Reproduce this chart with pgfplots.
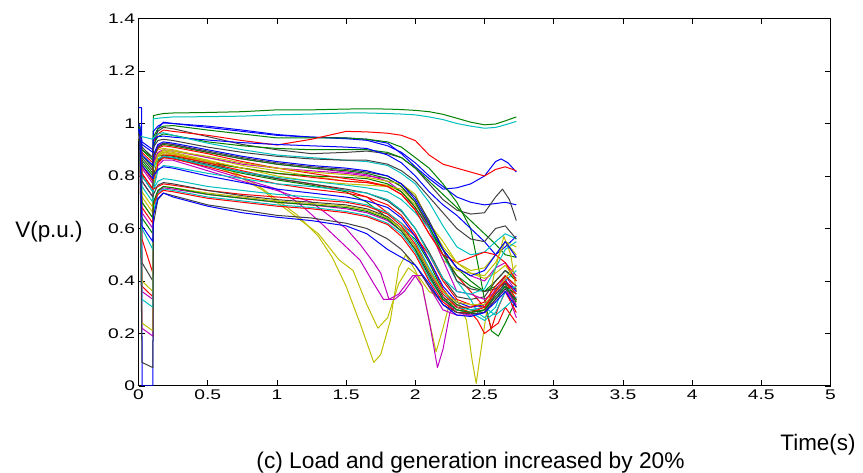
\documentclass[border=0pt]{standalone}
\usepackage{fontspec}
\setmainfont{Liberation Sans}
\newfontfamily\tickfont[FakeStretch=1.38]{Liberation Sans}
\usepackage{pgfplots}
\pgfplotsset{compat=1.18}

% MATLAB default line colours
\definecolor{mb}{rgb}{0,0,1}
\definecolor{mg}{rgb}{0,0.5,0}
\definecolor{mr}{rgb}{1,0,0}
\definecolor{mc}{rgb}{0,0.75,0.75}
\definecolor{mm}{rgb}{0.75,0,0.75}
\definecolor{my}{rgb}{0.75,0.75,0}
\definecolor{mk}{rgb}{0.25,0.25,0.25}

\pgfplotsset{bus/.style={line width=1bp, mark=none, line join=round}}

\begin{document}
\begin{tikzpicture}
\useasboundingbox (0,0) rectangle (863bp,473bp);
\begin{axis}[
  at={(138.5bp,87bp)}, anchor=south west,
  scale only axis, width=692bp, height=367.5bp,
  xmin=0, xmax=5, ymin=0, ymax=1.4,
  xtick={0,0.5,1,1.5,2,2.5,3,3.5,4,4.5,5},
  xticklabels={0,0.5,1,1.5,2,2.5,3,3.5,4,4.5,5},
  ytick={0,0.2,0.4,0.6,0.8,1,1.2,1.4},
  yticklabels={0,0.2,0.4,0.6,0.8,1,1.2,1.4},
  tick align=inside, major tick length=6bp,
  tick style={black, line width=0.8bp},
  axis line style={line width=1bp},
  tick label style={font=\fontsize{14}{14}\selectfont\tickfont},
  /pgf/number format/assume math mode=true,
]
% top buses
\addplot[bus,mg] coordinates {(0,1.00)(0.01,0.99)(0.025,0.90)(0.104,0.87)(0.108,1.030)(0.14,1.034)(0.18,1.038)(0.25,1.040)(0.5,1.042)(0.75,1.045)(1.0,1.052)(1.25,1.052)(1.5,1.055)(1.65,1.056)(1.8,1.055)(1.9,1.053)(2.0,1.050)(2.1,1.045)(2.2,1.035)(2.3,1.020)(2.4,1.005)(2.5,0.995)(2.58,0.998)(2.65,1.010)(2.73,1.025)};
\addplot[bus,mc] coordinates {(0,0.98)(0.01,0.975)(0.025,0.88)(0.104,0.84)(0.108,1.018)(0.14,1.02)(0.18,1.022)(0.25,1.025)(0.5,1.026)(0.75,1.028)(1.0,1.033)(1.25,1.036)(1.5,1.040)(1.65,1.040)(1.8,1.038)(1.9,1.036)(2.0,1.033)(2.1,1.025)(2.2,1.015)(2.3,1.000)(2.4,0.990)(2.5,0.982)(2.58,0.985)(2.65,0.995)(2.73,1.008)};
% faulted bus
\addplot[bus,mb] coordinates {(0,1.06)(0.022,1.06)(0.026,0)(0.104,0)(0.108,0.90)(0.14,0.98)(0.18,1.005)(0.25,1.0)(0.5,0.985)(0.75,0.97)(1.0,0.955)(1.25,0.948)(1.5,0.945)(1.65,0.94)(1.8,0.925)(1.9,0.885)(2.0,0.835)(2.1,0.79)(2.2,0.75)(2.3,0.755)(2.4,0.77)(2.5,0.80)(2.58,0.855)(2.62,0.865)(2.67,0.85)(2.73,0.815)};
% upper group
\addplot[bus,mb] coordinates {(0,1.00)(0.01,0.99)(0.025,0.93)(0.104,0.90)(0.108,0.97)(0.14,0.99)(0.18,1.002)(0.25,1.0)(0.5,0.99)(0.75,0.975)(1.0,0.958)(1.25,0.948)(1.5,0.942)(1.65,0.936)(1.8,0.915)(1.9,0.89)(2.0,0.85)(2.1,0.80)(2.2,0.76)(2.3,0.72)(2.4,0.70)(2.5,0.69)(2.58,0.695)(2.65,0.70)(2.73,0.69)};
\addplot[bus,mg] coordinates {(0,0.99)(0.01,0.98)(0.025,0.90)(0.104,0.86)(0.108,0.95)(0.14,0.98)(0.18,0.99)(0.25,0.992)(0.5,0.975)(0.75,0.96)(1.0,0.945)(1.25,0.945)(1.5,0.945)(1.65,0.94)(1.8,0.93)(1.9,0.91)(2.0,0.87)(2.1,0.83)(2.2,0.77)(2.3,0.70)(2.4,0.60)(2.45,0.47)(2.5,0.33)(2.55,0.21)(2.6,0.19)(2.65,0.24)(2.73,0.33)};
\addplot[bus,mk] coordinates {(0,0.98)(0.01,0.97)(0.025,0.91)(0.104,0.87)(0.108,0.94)(0.14,0.97)(0.18,0.985)(0.25,0.98)(0.5,0.95)(0.75,0.92)(1.0,0.90)(1.25,0.885)(1.5,0.89)(1.65,0.895)(1.8,0.885)(1.9,0.87)(2.0,0.83)(2.1,0.77)(2.2,0.71)(2.3,0.67)(2.4,0.655)(2.5,0.66)(2.58,0.72)(2.63,0.75)(2.68,0.71)(2.73,0.63)};
\addplot[bus,mr] coordinates {(0,0.97)(0.01,0.96)(0.025,0.89)(0.104,0.85)(0.108,0.93)(0.14,0.96)(0.18,0.975)(0.25,0.97)(0.5,0.955)(0.75,0.935)(1.0,0.918)(1.25,0.94)(1.5,0.97)(1.65,0.968)(1.8,0.963)(1.9,0.955)(2.0,0.935)(2.1,0.88)(2.2,0.845)(2.3,0.83)(2.4,0.815)(2.5,0.80)(2.58,0.825)(2.65,0.835)(2.73,0.82)};
\addplot[bus,mg] coordinates {(0,0.97)(0.01,0.96)(0.025,0.88)(0.104,0.83)(0.108,0.92)(0.14,0.95)(0.18,0.96)(0.25,0.955)(0.5,0.93)(0.75,0.915)(1.0,0.905)(1.25,0.90)(1.5,0.90)(1.65,0.90)(1.8,0.89)(1.9,0.87)(2.0,0.83)(2.1,0.78)(2.2,0.73)(2.3,0.68)(2.4,0.63)(2.5,0.58)(2.58,0.54)(2.65,0.50)(2.73,0.49)};
\addplot[bus,mb] coordinates {(0,0.98)(0.01,0.97)(0.025,0.92)(0.104,0.89)(0.108,0.94)(0.14,0.95)(0.18,0.952)(0.25,0.948)(0.5,0.937)(0.75,0.927)(1.0,0.92)(1.25,0.915)(1.5,0.91)(1.65,0.905)(1.8,0.88)(1.9,0.85)(2.0,0.80)(2.1,0.74)(2.2,0.69)(2.3,0.65)(2.4,0.60)(2.5,0.55)(2.58,0.50)(2.65,0.53)(2.73,0.57)};
\addplot[bus,mc] coordinates {(0,0.97)(0.012,0.955)(0.025,0.95)(0.104,0.94)(0.108,0.945)(0.14,0.96)(0.18,0.965)(0.25,0.955)(0.5,0.925)(0.75,0.90)(1.0,0.88)(1.25,0.87)(1.5,0.86)(1.65,0.855)(1.8,0.84)(1.9,0.81)(2.0,0.77)(2.1,0.70)(2.2,0.61)(2.3,0.53)(2.4,0.50)(2.5,0.51)(2.58,0.55)(2.65,0.58)(2.73,0.56)};
\addplot[bus,mk] coordinates {(0,0.96)(0.01,0.95)(0.025,0.87)(0.104,0.82)(0.108,0.91)(0.14,0.935)(0.18,0.94)(0.25,0.935)(0.5,0.91)(0.75,0.89)(1.0,0.875)(1.25,0.865)(1.5,0.86)(1.65,0.86)(1.8,0.845)(1.9,0.82)(2.0,0.78)(2.1,0.72)(2.2,0.66)(2.3,0.60)(2.4,0.56)(2.5,0.55)(2.58,0.60)(2.65,0.61)(2.73,0.56)};
\addplot[bus,mm] coordinates {(0,0.96)(0.01,0.95)(0.025,0.83)(0.104,0.77)(0.108,0.88)(0.14,0.915)(0.18,0.925)(0.25,0.92)(0.5,0.89)(0.75,0.865)(1.0,0.845)(1.25,0.83)(1.5,0.815)(1.65,0.805)(1.8,0.78)(1.9,0.74)(2.0,0.68)(2.1,0.60)(2.2,0.52)(2.3,0.45)(2.4,0.42)(2.5,0.40)(2.58,0.45)(2.65,0.47)(2.73,0.42)};
\addplot[bus,my] coordinates {(0,0.96)(0.01,0.95)(0.025,0.84)(0.104,0.79)(0.108,0.88)(0.14,0.9)(0.18,0.905)(0.25,0.90)(0.5,0.87)(0.75,0.84)(1.0,0.82)(1.25,0.80)(1.5,0.78)(1.65,0.775)(1.8,0.765)(1.9,0.74)(2.0,0.69)(2.1,0.62)(2.2,0.55)(2.3,0.47)(2.4,0.44)(2.5,0.45)(2.58,0.50)(2.65,0.55)(2.73,0.53)};
\addplot[bus,mr] coordinates {(0,0.95)(0.01,0.94)(0.025,0.81)(0.104,0.75)(0.108,0.86)(0.14,0.88)(0.18,0.89)(0.25,0.885)(0.5,0.855)(0.75,0.83)(1.0,0.81)(1.25,0.795)(1.5,0.78)(1.65,0.775)(1.8,0.76)(1.9,0.73)(2.0,0.67)(2.1,0.58)(2.2,0.50)(2.3,0.42)(2.4,0.36)(2.5,0.30)(2.55,0.22)(2.6,0.24)(2.65,0.30)(2.73,0.24)};
\addplot[bus,mg] coordinates {(0,0.95)(0.01,0.94)(0.025,0.86)(0.104,0.81)(0.108,0.86)(0.14,0.875)(0.18,0.88)(0.25,0.875)(0.5,0.85)(0.75,0.83)(1.0,0.81)(1.25,0.80)(1.5,0.795)(1.65,0.79)(1.8,0.77)(1.9,0.74)(2.0,0.68)(2.1,0.60)(2.2,0.52)(2.3,0.45)(2.4,0.40)(2.5,0.36)(2.58,0.40)(2.65,0.44)(2.73,0.40)};
% buses with deep voltage dips
\addplot[bus,my] coordinates {(0,0.95)(0.01,0.94)(0.025,0.72)(0.104,0.66)(0.108,0.84)(0.14,0.885)(0.18,0.895)(0.25,0.89)(0.5,0.86)(0.75,0.80)(0.9,0.75)(1.0,0.71)(1.15,0.65)(1.3,0.57)(1.4,0.49)(1.5,0.38)(1.6,0.24)(1.7,0.09)(1.75,0.12)(1.82,0.25)(1.88,0.45)(1.93,0.50)(2.0,0.44)(2.05,0.38)(2.1,0.25)(2.15,0.13)(2.2,0.22)(2.25,0.32)(2.3,0.30)(2.4,0.28)(2.5,0.29)(2.58,0.36)(2.65,0.40)(2.73,0.32)};
\addplot[bus,my] coordinates {(0,0.94)(0.01,0.93)(0.025,0.70)(0.104,0.64)(0.108,0.83)(0.14,0.875)(0.18,0.885)(0.25,0.88)(0.5,0.855)(0.75,0.79)(0.9,0.745)(1.0,0.70)(1.15,0.64)(1.3,0.58)(1.45,0.48)(1.55,0.44)(1.65,0.31)(1.73,0.22)(1.8,0.26)(1.88,0.39)(1.95,0.45)(2.02,0.42)(2.1,0.36)(2.2,0.33)(2.3,0.33)(2.37,0.25)(2.41,0.10)(2.44,0.01)(2.47,0.12)(2.52,0.30)(2.58,0.45)(2.64,0.57)(2.69,0.50)(2.73,0.36)};
\addplot[bus,mm] coordinates {(0,0.95)(0.01,0.94)(0.025,0.36)(0.104,0.33)(0.108,0.78)(0.14,0.85)(0.18,0.87)(0.25,0.87)(0.5,0.83)(0.75,0.79)(1.0,0.75)(1.15,0.70)(1.3,0.63)(1.4,0.58)(1.5,0.53)(1.6,0.48)(1.7,0.39)(1.77,0.33)(1.85,0.33)(1.92,0.36)(2.0,0.42)(2.05,0.38)(2.1,0.25)(2.16,0.07)(2.2,0.14)(2.25,0.28)(2.3,0.31)(2.4,0.29)(2.5,0.30)(2.58,0.37)(2.65,0.41)(2.73,0.30)};
\addplot[bus,mm] coordinates {(0,0.95)(0.01,0.94)(0.025,0.22)(0.104,0.19)(0.108,0.76)(0.14,0.84)(0.18,0.86)(0.25,0.86)(0.5,0.82)(0.75,0.78)(1.0,0.745)(1.25,0.70)(1.4,0.64)(1.5,0.60)(1.6,0.54)(1.7,0.47)(1.75,0.43)(1.81,0.33)(1.88,0.35)(1.98,0.42)(2.05,0.42)(2.12,0.36)(2.2,0.29)(2.3,0.27)(2.4,0.27)(2.5,0.28)(2.58,0.35)(2.65,0.38)(2.73,0.26)};
% middle group
\addplot[bus,mr] coordinates {(0,0.96)(0.01,0.95)(0.025,0.56)(0.104,0.43)(0.108,0.80)(0.14,0.86)(0.18,0.88)(0.25,0.878)(0.5,0.85)(0.75,0.82)(1.0,0.79)(1.25,0.77)(1.5,0.745)(1.65,0.72)(1.8,0.66)(1.9,0.62)(2.0,0.57)(2.1,0.50)(2.2,0.40)(2.3,0.33)(2.4,0.31)(2.5,0.30)(2.58,0.36)(2.65,0.40)(2.73,0.33)};
\addplot[bus,mg] coordinates {(0,0.95)(0.01,0.94)(0.025,0.64)(0.104,0.58)(0.108,0.80)(0.14,0.855)(0.18,0.87)(0.25,0.868)(0.5,0.84)(0.75,0.81)(1.0,0.785)(1.25,0.765)(1.5,0.74)(1.65,0.70)(1.8,0.64)(1.9,0.60)(2.0,0.56)(2.1,0.47)(2.2,0.36)(2.3,0.31)(2.4,0.29)(2.5,0.28)(2.58,0.33)(2.65,0.38)(2.73,0.35)};
\addplot[bus,mk] coordinates {(0,0.96)(0.01,0.95)(0.025,0.47)(0.104,0.40)(0.108,0.79)(0.14,0.86)(0.18,0.875)(0.25,0.87)(0.5,0.845)(0.75,0.815)(1.0,0.79)(1.25,0.77)(1.5,0.75)(1.65,0.735)(1.8,0.705)(1.9,0.665)(2.0,0.60)(2.1,0.51)(2.2,0.41)(2.3,0.34)(2.4,0.33)(2.5,0.34)(2.58,0.40)(2.65,0.44)(2.73,0.41)};
\addplot[bus,my] coordinates {(0,0.95)(0.01,0.94)(0.025,0.74)(0.104,0.68)(0.108,0.84)(0.14,0.88)(0.18,0.89)(0.25,0.885)(0.5,0.86)(0.75,0.83)(1.0,0.80)(1.25,0.78)(1.5,0.77)(1.65,0.765)(1.8,0.76)(1.9,0.75)(2.0,0.70)(2.1,0.60)(2.2,0.48)(2.3,0.44)(2.4,0.43)(2.5,0.41)(2.58,0.43)(2.65,0.46)(2.73,0.40)};
\addplot[bus,mr] coordinates {(0,0.95)(0.01,0.94)(0.025,0.38)(0.104,0.34)(0.108,0.78)(0.14,0.85)(0.18,0.87)(0.25,0.865)(0.5,0.835)(0.75,0.80)(1.0,0.77)(1.25,0.75)(1.5,0.735)(1.65,0.72)(1.8,0.69)(1.9,0.65)(2.0,0.58)(2.1,0.48)(2.2,0.37)(2.3,0.30)(2.4,0.28)(2.45,0.25)(2.5,0.20)(2.55,0.22)(2.6,0.30)(2.65,0.36)(2.73,0.28)};
\addplot[bus,mm] coordinates {(0,0.95)(0.01,0.94)(0.025,0.78)(0.104,0.72)(0.108,0.85)(0.14,0.89)(0.18,0.90)(0.25,0.895)(0.5,0.87)(0.75,0.845)(1.0,0.83)(1.25,0.82)(1.5,0.81)(1.65,0.80)(1.8,0.79)(1.9,0.76)(2.0,0.70)(2.1,0.60)(2.2,0.48)(2.3,0.36)(2.4,0.35)(2.5,0.33)(2.58,0.36)(2.65,0.42)(2.73,0.36)};
\addplot[bus,mc] coordinates {(0,0.95)(0.01,0.94)(0.025,0.76)(0.104,0.70)(0.108,0.83)(0.14,0.865)(0.18,0.875)(0.25,0.87)(0.5,0.84)(0.75,0.815)(1.0,0.795)(1.25,0.78)(1.5,0.765)(1.65,0.755)(1.8,0.74)(1.9,0.71)(2.0,0.66)(2.1,0.60)(2.2,0.50)(2.3,0.40)(2.4,0.33)(2.45,0.28)(2.5,0.26)(2.58,0.30)(2.65,0.40)(2.73,0.44)};
\addplot[bus,mg] coordinates {(0,0.96)(0.01,0.95)(0.025,0.85)(0.104,0.80)(0.108,0.87)(0.14,0.91)(0.18,0.92)(0.25,0.915)(0.5,0.89)(0.75,0.865)(1.0,0.845)(1.25,0.83)(1.5,0.82)(1.65,0.81)(1.8,0.79)(1.9,0.76)(2.0,0.70)(2.1,0.61)(2.2,0.50)(2.3,0.42)(2.4,0.38)(2.5,0.36)(2.58,0.38)(2.65,0.42)(2.73,0.38)};
\addplot[bus,mr] coordinates {(0,0.96)(0.01,0.95)(0.025,0.84)(0.104,0.78)(0.108,0.87)(0.14,0.905)(0.18,0.915)(0.25,0.91)(0.5,0.885)(0.75,0.855)(1.0,0.83)(1.25,0.81)(1.5,0.79)(1.65,0.78)(1.8,0.76)(1.9,0.73)(2.0,0.67)(2.1,0.58)(2.2,0.50)(2.3,0.47)(2.4,0.49)(2.5,0.51)(2.58,0.50)(2.65,0.47)(2.73,0.40)};
\addplot[bus,my] coordinates {(0,0.95)(0.01,0.94)(0.025,0.24)(0.104,0.21)(0.108,0.75)(0.14,0.88)(0.18,0.90)(0.25,0.895)(0.5,0.875)(0.75,0.85)(1.0,0.83)(1.25,0.815)(1.5,0.805)(1.65,0.795)(1.8,0.78)(1.9,0.77)(2.0,0.73)(2.1,0.62)(2.2,0.53)(2.3,0.47)(2.4,0.43)(2.5,0.42)(2.58,0.47)(2.65,0.55)(2.73,0.50)};
\addplot[bus,mk] coordinates {(0,0.96)(0.01,0.95)(0.025,0.80)(0.104,0.74)(0.108,0.86)(0.14,0.91)(0.18,0.925)(0.25,0.92)(0.5,0.895)(0.75,0.87)(1.0,0.85)(1.25,0.835)(1.5,0.825)(1.65,0.815)(1.8,0.80)(1.9,0.77)(2.0,0.72)(2.1,0.63)(2.2,0.52)(2.3,0.40)(2.4,0.37)(2.5,0.36)(2.58,0.37)(2.65,0.39)(2.73,0.37)};
\addplot[bus,mc] coordinates {(0,0.96)(0.01,0.95)(0.025,0.60)(0.104,0.52)(0.108,0.75)(0.14,0.82)(0.18,0.84)(0.25,0.835)(0.5,0.81)(0.75,0.79)(1.0,0.77)(1.25,0.76)(1.5,0.745)(1.65,0.735)(1.8,0.71)(1.9,0.67)(2.0,0.60)(2.1,0.50)(2.2,0.41)(2.3,0.36)(2.4,0.35)(2.5,0.37)(2.58,0.45)(2.65,0.52)(2.73,0.55)};
\addplot[bus,mb] coordinates {(0,0.98)(0.01,0.97)(0.025,0.88)(0.104,0.84)(0.108,0.88)(0.14,0.92)(0.18,0.93)(0.25,0.925)(0.5,0.90)(0.75,0.875)(1.0,0.855)(1.25,0.84)(1.5,0.83)(1.65,0.82)(1.8,0.80)(1.9,0.77)(2.0,0.71)(2.1,0.62)(2.2,0.52)(2.3,0.45)(2.4,0.42)(2.5,0.44)(2.58,0.50)(2.65,0.55)(2.73,0.49)};
% lower group
\addplot[bus,mb] coordinates {(0,0.98)(0.01,0.97)(0.025,0.84)(0.104,0.79)(0.108,0.80)(0.14,0.825)(0.18,0.835)(0.25,0.83)(0.5,0.80)(0.75,0.775)(1.0,0.75)(1.25,0.735)(1.5,0.72)(1.65,0.705)(1.8,0.68)(1.9,0.64)(2.0,0.57)(2.1,0.48)(2.2,0.38)(2.3,0.32)(2.4,0.30)(2.5,0.31)(2.58,0.36)(2.65,0.40)(2.73,0.36)};
\addplot[bus,mc] coordinates {(0,0.96)(0.01,0.95)(0.025,0.80)(0.104,0.74)(0.108,0.75)(0.14,0.78)(0.18,0.79)(0.25,0.785)(0.5,0.76)(0.75,0.745)(1.0,0.73)(1.25,0.72)(1.5,0.705)(1.65,0.69)(1.8,0.66)(1.9,0.62)(2.0,0.55)(2.1,0.45)(2.2,0.36)(2.3,0.30)(2.4,0.29)(2.5,0.30)(2.58,0.27)(2.65,0.30)(2.73,0.34)};
\addplot[bus,mr] coordinates {(0,0.96)(0.01,0.95)(0.025,0.81)(0.104,0.75)(0.108,0.75)(0.14,0.76)(0.18,0.77)(0.25,0.765)(0.5,0.745)(0.75,0.73)(1.0,0.72)(1.25,0.71)(1.5,0.70)(1.65,0.685)(1.8,0.655)(1.9,0.61)(2.0,0.54)(2.1,0.44)(2.2,0.35)(2.3,0.30)(2.4,0.30)(2.5,0.32)(2.58,0.38)(2.65,0.42)(2.73,0.38)};
\addplot[bus,mk] coordinates {(0,0.96)(0.01,0.95)(0.025,0.78)(0.104,0.72)(0.108,0.73)(0.14,0.765)(0.18,0.775)(0.25,0.77)(0.5,0.745)(0.75,0.725)(1.0,0.71)(1.25,0.70)(1.5,0.69)(1.65,0.675)(1.8,0.645)(1.9,0.60)(2.0,0.53)(2.1,0.43)(2.2,0.34)(2.3,0.29)(2.4,0.28)(2.5,0.29)(2.58,0.35)(2.65,0.39)(2.73,0.30)};
\addplot[bus,my] coordinates {(0,0.95)(0.01,0.94)(0.025,0.40)(0.104,0.36)(0.108,0.68)(0.14,0.745)(0.18,0.76)(0.25,0.755)(0.5,0.735)(0.75,0.72)(1.0,0.705)(1.25,0.695)(1.5,0.685)(1.65,0.67)(1.8,0.64)(1.9,0.60)(2.0,0.53)(2.1,0.44)(2.2,0.36)(2.3,0.32)(2.4,0.31)(2.5,0.31)(2.58,0.36)(2.65,0.41)(2.73,0.46)};
\addplot[bus,mm] coordinates {(0,0.95)(0.01,0.94)(0.025,0.66)(0.104,0.60)(0.108,0.70)(0.14,0.74)(0.18,0.755)(0.25,0.75)(0.5,0.73)(0.75,0.715)(1.0,0.70)(1.25,0.69)(1.5,0.675)(1.65,0.66)(1.8,0.63)(1.9,0.59)(2.0,0.52)(2.1,0.42)(2.2,0.33)(2.3,0.28)(2.4,0.27)(2.5,0.28)(2.58,0.33)(2.65,0.37)(2.73,0.31)};
\addplot[bus,mc] coordinates {(0,0.95)(0.01,0.94)(0.025,0.33)(0.104,0.30)(0.108,0.66)(0.14,0.735)(0.18,0.75)(0.25,0.745)(0.5,0.72)(0.75,0.705)(1.0,0.69)(1.25,0.68)(1.5,0.665)(1.65,0.65)(1.8,0.62)(1.9,0.58)(2.0,0.51)(2.1,0.41)(2.2,0.33)(2.3,0.29)(2.4,0.28)(2.5,0.25)(2.58,0.28)(2.65,0.36)(2.73,0.38)};
\addplot[bus,mr] coordinates {(0,0.96)(0.01,0.95)(0.025,0.68)(0.104,0.62)(0.108,0.69)(0.14,0.73)(0.18,0.745)(0.25,0.74)(0.5,0.715)(0.75,0.70)(1.0,0.685)(1.25,0.675)(1.5,0.66)(1.65,0.645)(1.8,0.615)(1.9,0.57)(2.0,0.50)(2.1,0.40)(2.2,0.32)(2.3,0.28)(2.4,0.28)(2.5,0.30)(2.58,0.36)(2.65,0.40)(2.73,0.35)};
\addplot[bus,mg] coordinates {(0,0.96)(0.01,0.95)(0.025,0.70)(0.104,0.64)(0.108,0.70)(0.14,0.745)(0.18,0.76)(0.25,0.755)(0.5,0.73)(0.75,0.715)(1.0,0.70)(1.25,0.69)(1.5,0.68)(1.65,0.665)(1.8,0.635)(1.9,0.59)(2.0,0.52)(2.1,0.42)(2.2,0.33)(2.3,0.29)(2.4,0.28)(2.5,0.29)(2.58,0.34)(2.65,0.38)(2.73,0.32)};
\addplot[bus,mk] coordinates {(0,0.96)(0.01,0.95)(0.025,0.09)(0.104,0.07)(0.108,0.62)(0.14,0.71)(0.18,0.735)(0.25,0.725)(0.5,0.69)(0.75,0.67)(1.0,0.65)(1.25,0.64)(1.5,0.62)(1.65,0.60)(1.8,0.56)(1.9,0.52)(2.0,0.46)(2.1,0.38)(2.2,0.31)(2.3,0.28)(2.4,0.275)(2.5,0.28)(2.58,0.33)(2.65,0.37)(2.73,0.33)};
\addplot[bus,mb] coordinates {(0,0.97)(0.01,0.96)(0.025,0.61)(0.104,0.55)(0.108,0.65)(0.14,0.715)(0.18,0.735)(0.25,0.72)(0.5,0.685)(0.75,0.66)(1.0,0.643)(1.25,0.63)(1.5,0.61)(1.65,0.58)(1.8,0.52)(1.9,0.49)(2.0,0.46)(2.1,0.39)(2.2,0.31)(2.3,0.27)(2.4,0.265)(2.5,0.28)(2.58,0.32)(2.65,0.36)(2.73,0.30)};
\end{axis}
\node[font=\fontsize{22.5}{22.5}\selectfont] at (49bp,241bp) {V(p.u.)};
\node[font=\fontsize{22.5}{22.5}\selectfont] at (818bp,28bp) {Time(s)};
\node[font=\fontsize{22.8}{22.8}\selectfont] at (470.5bp,10bp) {(c) Load and generation increased by 20\%};
\end{tikzpicture}
\end{document}
